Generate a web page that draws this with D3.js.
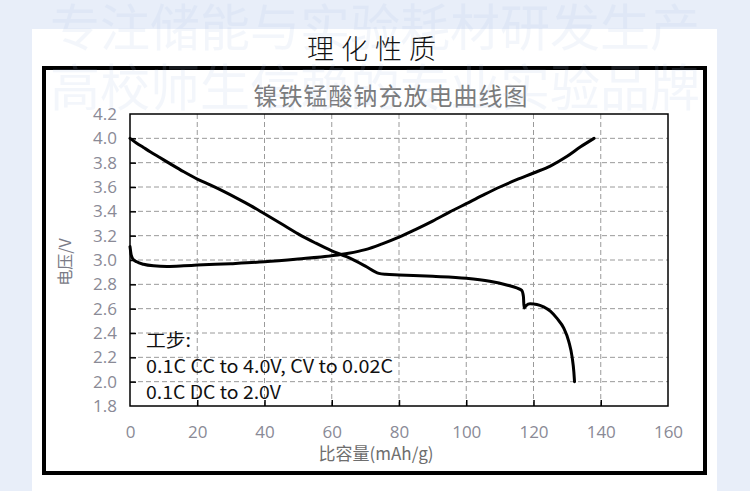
<!DOCTYPE html>
<html><head><meta charset="utf-8">
<script src="https://cdn.jsdelivr.net/npm/d3@7/dist/d3.min.js"></script>
<style>
html,body{margin:0;padding:0;background:#e8eef9;}
svg{display:block;}
</style></head>
<body>
<svg id="c" width="750" height="491"></svg>
<script>
// ---- data ----
const xTicks = [0, 20, 40, 60, 80, 100, 120, 140, 160];
const yTicks = [1.8, 2.0, 2.2, 2.4, 2.6, 2.8, 3.0, 3.2, 3.4, 3.6, 3.8, 4.0, 4.2];
const chargeCap = [0, 0.3, 0.8, 2, 4, 7, 11, 16, 20, 30, 40, 50, 60, 65, 70, 75, 80, 85, 90, 95, 100, 105, 110, 115, 120, 125, 130, 134, 138];
const chargeV   = [3.11, 3.05, 3.01, 2.985, 2.965, 2.952, 2.947, 2.952, 2.958, 2.97, 2.985, 3.008, 3.035, 3.055, 3.085, 3.133, 3.188, 3.252, 3.32, 3.393, 3.463, 3.533, 3.60, 3.66, 3.715, 3.772, 3.852, 3.93, 4.0];
const dischargeCap = [0, 2, 4, 6, 9, 12, 16, 20, 24, 28, 32, 36, 40, 45, 50, 55, 60, 64.4, 70, 74, 76, 80, 90, 100, 107, 112, 115, 116.5, 117, 117.2, 117.8, 119, 121, 123, 125, 127, 129, 130.5, 131.5, 132, 132.2];
const dischargeV   = [4.0, 3.96, 3.925, 3.89, 3.84, 3.79, 3.725, 3.665, 3.615, 3.562, 3.505, 3.445, 3.38, 3.298, 3.215, 3.142, 3.075, 3.027, 2.95, 2.89, 2.882, 2.877, 2.866, 2.85, 2.825, 2.795, 2.77, 2.75, 2.70, 2.605, 2.625, 2.64, 2.635, 2.615, 2.58, 2.52, 2.44, 2.33, 2.2, 2.08, 2.0];
const pageTitle = "理化性质";
const chartTitle = "镍铁锰酸钠充放电曲线图";
const xLabel = "比容量(mAh/g)";
const yLabel = "电压/V";
const notes = ["工步:", "0.1C CC to 4.0V, CV to 0.02C", "0.1C DC to 2.0V"];
const watermark1 = "专注储能与实验耗材研发生产";
const watermark2 = "高校师生信赖的专业实验品牌";

const svg = d3.select("#c");
const CJK = "'Noto Sans CJK SC','Noto Sans',sans-serif";

// white panel
svg.append("rect").attr("x",32).attr("y",29).attr("width",685).attr("height",470).attr("fill","#ffffff");

// page title
svg.append("text").attr("x",375).attr("y",59).attr("text-anchor","middle")
  .attr("font-family",CJK).attr("font-size",27).attr("font-weight",300).attr("letter-spacing",7).attr("fill","#111")
  .text(pageTitle);

// black frame
svg.append("rect").attr("x",44).attr("y",68).attr("width",661).attr("height",405)
  .attr("fill","none").attr("stroke","#000").attr("stroke-width",4);

// scales
const x = d3.scaleLinear().domain([0,160]).range([130,668]);
const y = d3.scaleLinear().domain([1.8,4.2]).range([406,114]);

// chart title
svg.append("text").attr("x",391).attr("y",105).attr("text-anchor","middle")
  .attr("font-family",CJK).attr("font-size",24).attr("letter-spacing",1).attr("fill","#7a7a7a")
  .text(chartTitle);

// grid
const g = svg.append("g");
g.selectAll(".vg").data(xTicks.filter(d=>d>0&&d<160)).enter().append("line")
  .attr("x1",d=>x(d)).attr("x2",d=>x(d)).attr("y1",y(4.2)).attr("y2",y(1.8))
  .attr("stroke","#9a9a9a").attr("stroke-width",1).attr("stroke-dasharray","5,3");
g.selectAll(".hg").data(yTicks.filter(d=>d>1.85&&d<4.15)).enter().append("line")
  .attr("x1",x(0)).attr("x2",x(160)).attr("y1",d=>y(d)).attr("y2",d=>y(d))
  .attr("stroke","#9a9a9a").attr("stroke-width",1).attr("stroke-dasharray","5,3");

// axes (inner ticks)
const yAxis = d3.axisLeft(y).tickValues(yTicks).tickFormat(d3.format(".1f")).tickSizeInner(-6).tickSizeOuter(0).tickPadding(13);
const xAxis = d3.axisBottom(x).tickValues(xTicks).tickFormat(d3.format("d")).tickSizeInner(-6).tickSizeOuter(0).tickPadding(20);
const ya = svg.append("g").attr("transform",`translate(${x(0)},0)`).call(yAxis);
const xa = svg.append("g").attr("transform",`translate(0,${y(1.8)})`).call(xAxis);
[ya,xa].forEach(a=>{
  a.select(".domain").remove();
  a.selectAll(".tick line").attr("stroke","#000").attr("stroke-width",1.5);
  a.selectAll(".tick text").attr("fill","#8a8a96").attr("font-size",17)
   .attr("font-family","'Open Sans','Noto Sans',sans-serif");
});
ya.selectAll(".tick").filter(d=>d<1.9||d>4.1).select("line").remove();
xa.selectAll(".tick").filter(d=>d<1||d>159).select("line").remove();

// plot frame
svg.append("rect").attr("x",x(0)).attr("y",y(4.2)).attr("width",x(160)-x(0)).attr("height",y(1.8)-y(4.2))
  .attr("fill","none").attr("stroke","#000").attr("stroke-width",1.5);

// axis labels
svg.append("text").attr("x",376).attr("y",460).attr("text-anchor","middle")
  .attr("font-family",CJK).attr("font-size",17).attr("fill","#6e6e6e").text(xLabel);
svg.append("text").attr("transform","translate(71,262) rotate(-90)").attr("text-anchor","middle")
  .attr("font-family",CJK).attr("font-size",16).attr("fill","#7a7a86").text(yLabel);

// curves
const line = d3.line().x(d=>x(d[0])).y(d=>y(d[1])).curve(d3.curveMonotoneX);
const charge = chargeCap.map((c,i)=>[c,chargeV[i]]);
const discharge = dischargeCap.map((c,i)=>[c,dischargeV[i]]);
[charge,discharge].forEach(dat=>{
  svg.append("path").datum(dat).attr("d",line).attr("fill","none")
    .attr("stroke","#000").attr("stroke-width",3).attr("stroke-linejoin","round").attr("stroke-linecap","round");
});

// notes
const nt = svg.append("g");
const ny = [347, 373, 399];
const nw = [45, 247, 135];
notes.forEach((t,i)=>{
  nt.append("text").attr("x",146).attr("y",ny[i]).attr("font-family",CJK).attr("font-size",18)
   .attr("textLength",nw[i]).attr("lengthAdjust","spacingAndGlyphs")
   .attr("fill","#111").text(t);
});

// watermarks
const wm = svg.append("g").attr("fill","#a9c0e6").attr("opacity",0.13).attr("font-family",CJK);
wm.append("text").attr("x",375).attr("y",46).attr("text-anchor","middle").attr("font-size",50).text(watermark1);
wm.append("text").attr("x",375).attr("y",106).attr("text-anchor","middle").attr("font-size",50).text(watermark2);
</script>
</body></html>
